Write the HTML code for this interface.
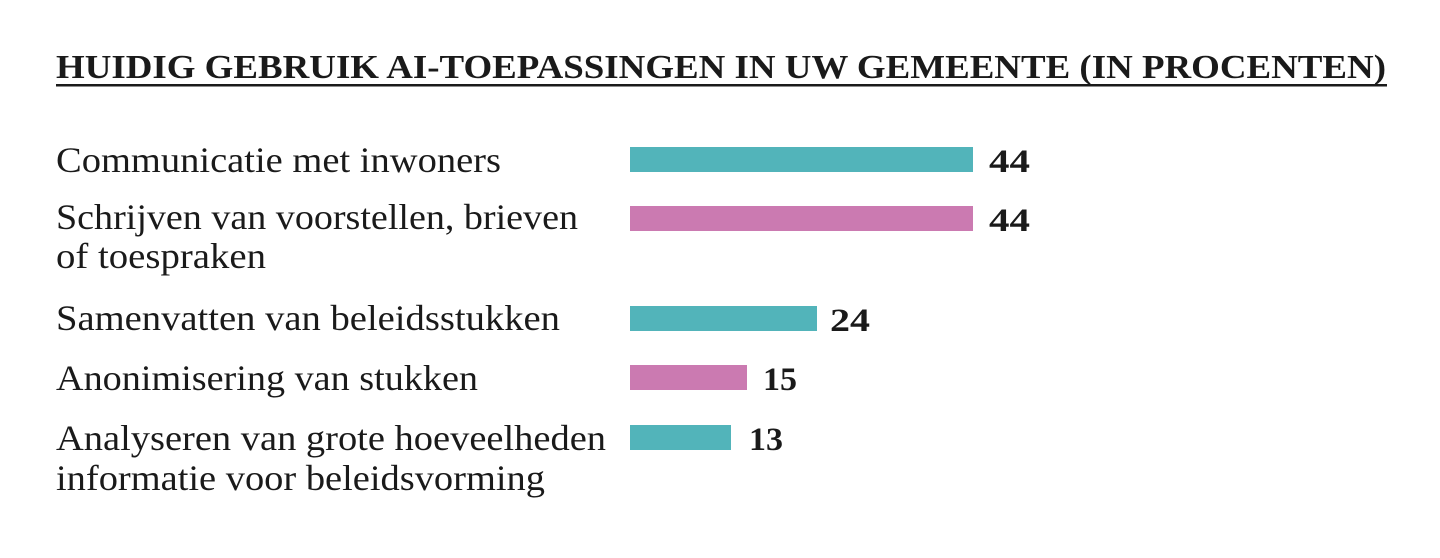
<!DOCTYPE html>
<html><head><meta charset="utf-8"><style>html,body{margin:0;padding:0;background:#fff}svg{display:block}</style></head>
<body>
<svg width="1440" height="558" xmlns="http://www.w3.org/2000/svg">
<rect width="1440" height="558" fill="#fff"/>
<g font-family="Liberation Serif, serif" fill="#1a1a1a">
<text x="56" y="78" font-size="34" font-weight="bold" textLength="1330" lengthAdjust="spacingAndGlyphs">HUIDIG GEBRUIK AI-TOEPASSINGEN IN UW GEMEENTE (IN PROCENTEN)</text>
<rect x="56" y="84" width="1331" height="2.5" fill="#1a1a1a"/>
<g font-size="36">
<text x="56" y="172" textLength="445" lengthAdjust="spacingAndGlyphs">Communicatie met inwoners</text>
<text x="56" y="229" textLength="522" lengthAdjust="spacingAndGlyphs">Schrijven van voorstellen, brieven</text>
<text x="56" y="268" textLength="210" lengthAdjust="spacingAndGlyphs">of toespraken</text>
<text x="56" y="330" textLength="504" lengthAdjust="spacingAndGlyphs">Samenvatten van beleidsstukken</text>
<text x="56" y="390" textLength="422" lengthAdjust="spacingAndGlyphs">Anonimisering van stukken</text>
<text x="56" y="450" textLength="550" lengthAdjust="spacingAndGlyphs">Analyseren van grote hoeveelheden</text>
<text x="56" y="490" textLength="489" lengthAdjust="spacingAndGlyphs">informatie voor beleidsvorming</text>
</g>
<rect x="630" y="147" width="343" height="25" fill="#52b4ba"/>
<rect x="630" y="206" width="343" height="25" fill="#cb7ab1"/>
<rect x="630" y="306" width="187" height="25" fill="#52b4ba"/>
<rect x="630" y="365" width="117" height="25" fill="#cb7ab1"/>
<rect x="630" y="425" width="101" height="25" fill="#52b4ba"/>
<g font-size="33" font-weight="bold">
<text x="989" y="172" textLength="41" lengthAdjust="spacingAndGlyphs">44</text>
<text x="989" y="231" textLength="41" lengthAdjust="spacingAndGlyphs">44</text>
<text x="830" y="331" textLength="40" lengthAdjust="spacingAndGlyphs">24</text>
<text x="763" y="390" textLength="34" lengthAdjust="spacingAndGlyphs">15</text>
<text x="749" y="450" textLength="34" lengthAdjust="spacingAndGlyphs">13</text>
</g>
</g>
</svg>
</body></html>
